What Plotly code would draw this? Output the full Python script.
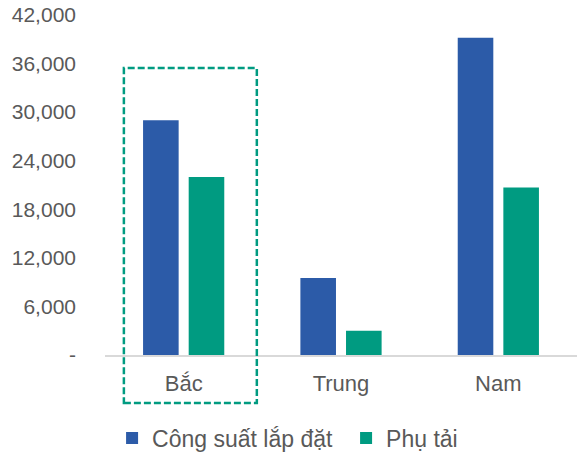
import plotly.graph_objects as go

# Regional installed capacity vs. load (MW)
regions = ["Bắc", "Trung", "Nam"]
installed = [29000, 9500, 39200]
load = [22000, 3000, 20700]

y_ticks = [0, 6000, 12000, 18000, 24000, 30000, 36000, 42000]
y_tick_text = ["-", "6,000", "12,000", "18,000", "24,000", "30,000", "36,000", "42,000"]

BLUE = "#2C5BA8"
GREEN = "#009B81"
GRAY_TEXT = "#595959"
FONT = "Liberation Sans, Arial, sans-serif"

fig = go.Figure()
fig.add_trace(go.Bar(name="Công suất lắp đặt", x=regions, y=installed,
                     marker=dict(color=BLUE, line=dict(width=0))))
fig.add_trace(go.Bar(name="Phụ tải", x=regions, y=load,
                     marker=dict(color=GREEN, line=dict(width=0))))

# Dashed highlight around the northern region
fig.add_shape(type="rect", xref="x", yref="paper",
              x0=-0.38, x1=0.465, y0=-0.141, y1=0.844,
              line=dict(color=GREEN, width=2.5, dash="7px,3px"),
              fillcolor="rgba(0,0,0,0)")

fig.update_layout(
    width=577, height=455,
    margin=dict(l=105, r=0, t=15, b=100, autoexpand=False),
    paper_bgcolor="white", plot_bgcolor="white",
    barmode="group", bargap=0.42, bargroupgap=0.22,
    font=dict(family=FONT, color=GRAY_TEXT, size=22),
    showlegend=True,
    legend=dict(orientation="h", x=0.015, xanchor="left", y=-0.244, yanchor="middle",
                font=dict(size=23, color=GRAY_TEXT), entrywidth=189,
                entrywidthmode="pixels", traceorder="normal",
                bgcolor="rgba(0,0,0,0)"),
)
fig.update_xaxes(showline=True, linecolor="#D9D9D9", linewidth=2,
                 showgrid=False, ticks="", tickfont=dict(size=22, color=GRAY_TEXT),
                 ticklabelstandoff=8)
fig.update_yaxes(range=[0, 42000], tickvals=y_ticks, ticktext=y_tick_text,
                 showgrid=False, showline=False, zeroline=False, ticks="",
                 tickfont=dict(size=21, color=GRAY_TEXT), ticklabelstandoff=28)

fig.write_html("out.html")
